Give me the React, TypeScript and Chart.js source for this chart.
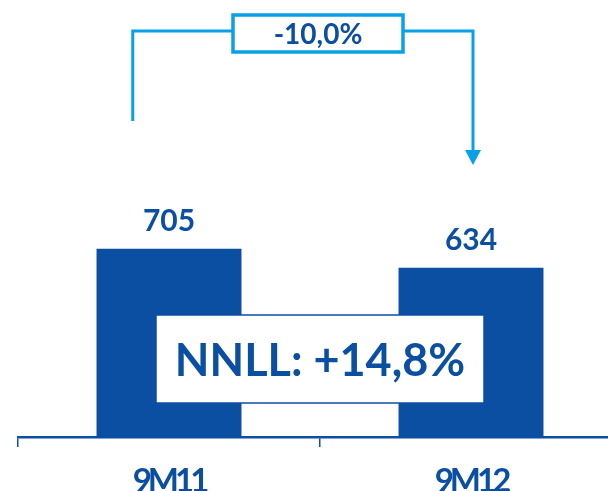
import React, { useEffect, useRef } from "react";
import { Chart, registerables } from "chart.js";

Chart.register(...registerables);

const categories = ["9M11", "9M12"];
const values = [705, 634];
const changeLabel = "-10,0%";
const calloutLabel = "NNLL: +14,8%";

const DARK = "#0b4fa2";
const LIGHT = "#08a0e8";
const FONT = "Lato, 'Open Sans', sans-serif";

const W = 622;
const H = 500;

export default function App() {
  const ref = useRef<HTMLCanvasElement | null>(null);

  useEffect(() => {
    if (!ref.current) return;
    const spacing = {
      id: "spacing",
      beforeDraw(chart: any) {
        chart.ctx.letterSpacing = "-4px";
      },
    };
    const overlay = {
      id: "overlay",
      afterDatasetsDraw(chart: any) {
        const ctx = chart.ctx;
        const ca = chart.chartArea;
        const meta = chart.getDatasetMeta(0);
        const bars = meta.data;
        ctx.save();
        ctx.letterSpacing = "0px";
        // value labels
        ctx.fillStyle = DARK;
        ctx.font = `700 30px ${FONT}`;
        ctx.textAlign = "center";
        ctx.textBaseline = "alphabetic";
        bars.forEach((b: any, i: number) => {
          ctx.fillText(String(values[i]), b.x, b.y - 18);
        });
        // callout box
        const cx = (ca.left + ca.right) / 2;
        const bw = 328;
        const bTop = ca.bottom - 122;
        const bBot = ca.bottom - 34;
        ctx.fillStyle = "#ffffff";
        ctx.fillRect(cx - bw / 2, bTop, bw, bBot - bTop);
        ctx.strokeStyle = DARK;
        ctx.lineWidth = 1.5;
        ctx.strokeRect(cx - bw / 2, bTop, bw, bBot - bTop);
        ctx.fillStyle = DARK;
        ctx.font = `700 45px ${FONT}`;
        ctx.textBaseline = "middle";
        ctx.fillText(calloutLabel, cx, (bTop + bBot) / 2 + 2);

        // bracket
        const b0: any = bars[0];
        const b1: any = bars[1];
        const lx = b0.x - b0.width / 4;
        const rx = b1.x + 2;
        const ly = 31;
        const boxL = 233, boxR = 403, boxT = 15, boxB = 52;
        ctx.strokeStyle = LIGHT;
        ctx.lineWidth = 3;
        ctx.lineJoin = "miter";
        ctx.beginPath();
        ctx.moveTo(lx, 121);
        ctx.lineTo(lx, ly);
        ctx.lineTo(boxL, ly);
        ctx.moveTo(boxR, ly);
        ctx.lineTo(rx, ly);
        ctx.lineTo(rx, 152);
        ctx.stroke();
        ctx.fillStyle = LIGHT;
        ctx.beginPath();
        ctx.moveTo(rx - 8, 150);
        ctx.lineTo(rx + 8, 150);
        ctx.lineTo(rx, 165);
        ctx.closePath();
        ctx.fill();
        ctx.fillStyle = "#ffffff";
        ctx.fillRect(boxL, boxT, boxR - boxL, boxB - boxT);
        ctx.lineWidth = 3.5;
        ctx.strokeRect(boxL, boxT, boxR - boxL, boxB - boxT);
        ctx.fillStyle = DARK;
        ctx.font = `700 28px ${FONT}`;
        ctx.textBaseline = "middle";
        ctx.fillText(changeLabel, (boxL + boxR) / 2, (boxT + boxB) / 2 + 1);
        ctx.restore();
      },
    };

    const chart = new Chart(ref.current, {
      type: "bar",
      data: {
        labels: categories,
        datasets: [
          {
            data: values,
            backgroundColor: DARK,
            borderWidth: 0,
            barPercentage: 0.48,
            categoryPercentage: 1,
          },
        ],
      },
      options: {
        responsive: false,
        animation: false,
        layout: { padding: { left: 18, right: 0, top: 10, bottom: 0 } },
        plugins: {
          legend: { display: false },
          tooltip: { enabled: false },
          title: { display: false },
        },
        scales: {
          y: { display: false, min: 0, max: 1600 },
          x: {
            afterFit: (scale: any) => {
              scale.height = H - 437;
            },
            grid: {
              display: true,
              drawOnChartArea: false,
              drawTicks: true,
              tickLength: 10,
              color: DARK,
              lineWidth: 1.5,
              offset: true,
            },
            border: { display: true, color: DARK, width: 2.5 },
            ticks: {
              color: DARK,
              padding: 15,
              font: { family: FONT, size: 33, weight: "bold" },
            },
          },
        },
      },
      plugins: [spacing, overlay],
    });
    return () => chart.destroy();
  }, []);

  return (
    <div
      style={{
        position: "absolute",
        left: 0,
        top: 0,
        width: 608,
        height: 491,
        overflow: "hidden",
        background: "#ffffff",
      }}
    >
      <canvas ref={ref} width={W} height={H} style={{ width: W, height: H, display: "block" }} />
    </div>
  );
}
